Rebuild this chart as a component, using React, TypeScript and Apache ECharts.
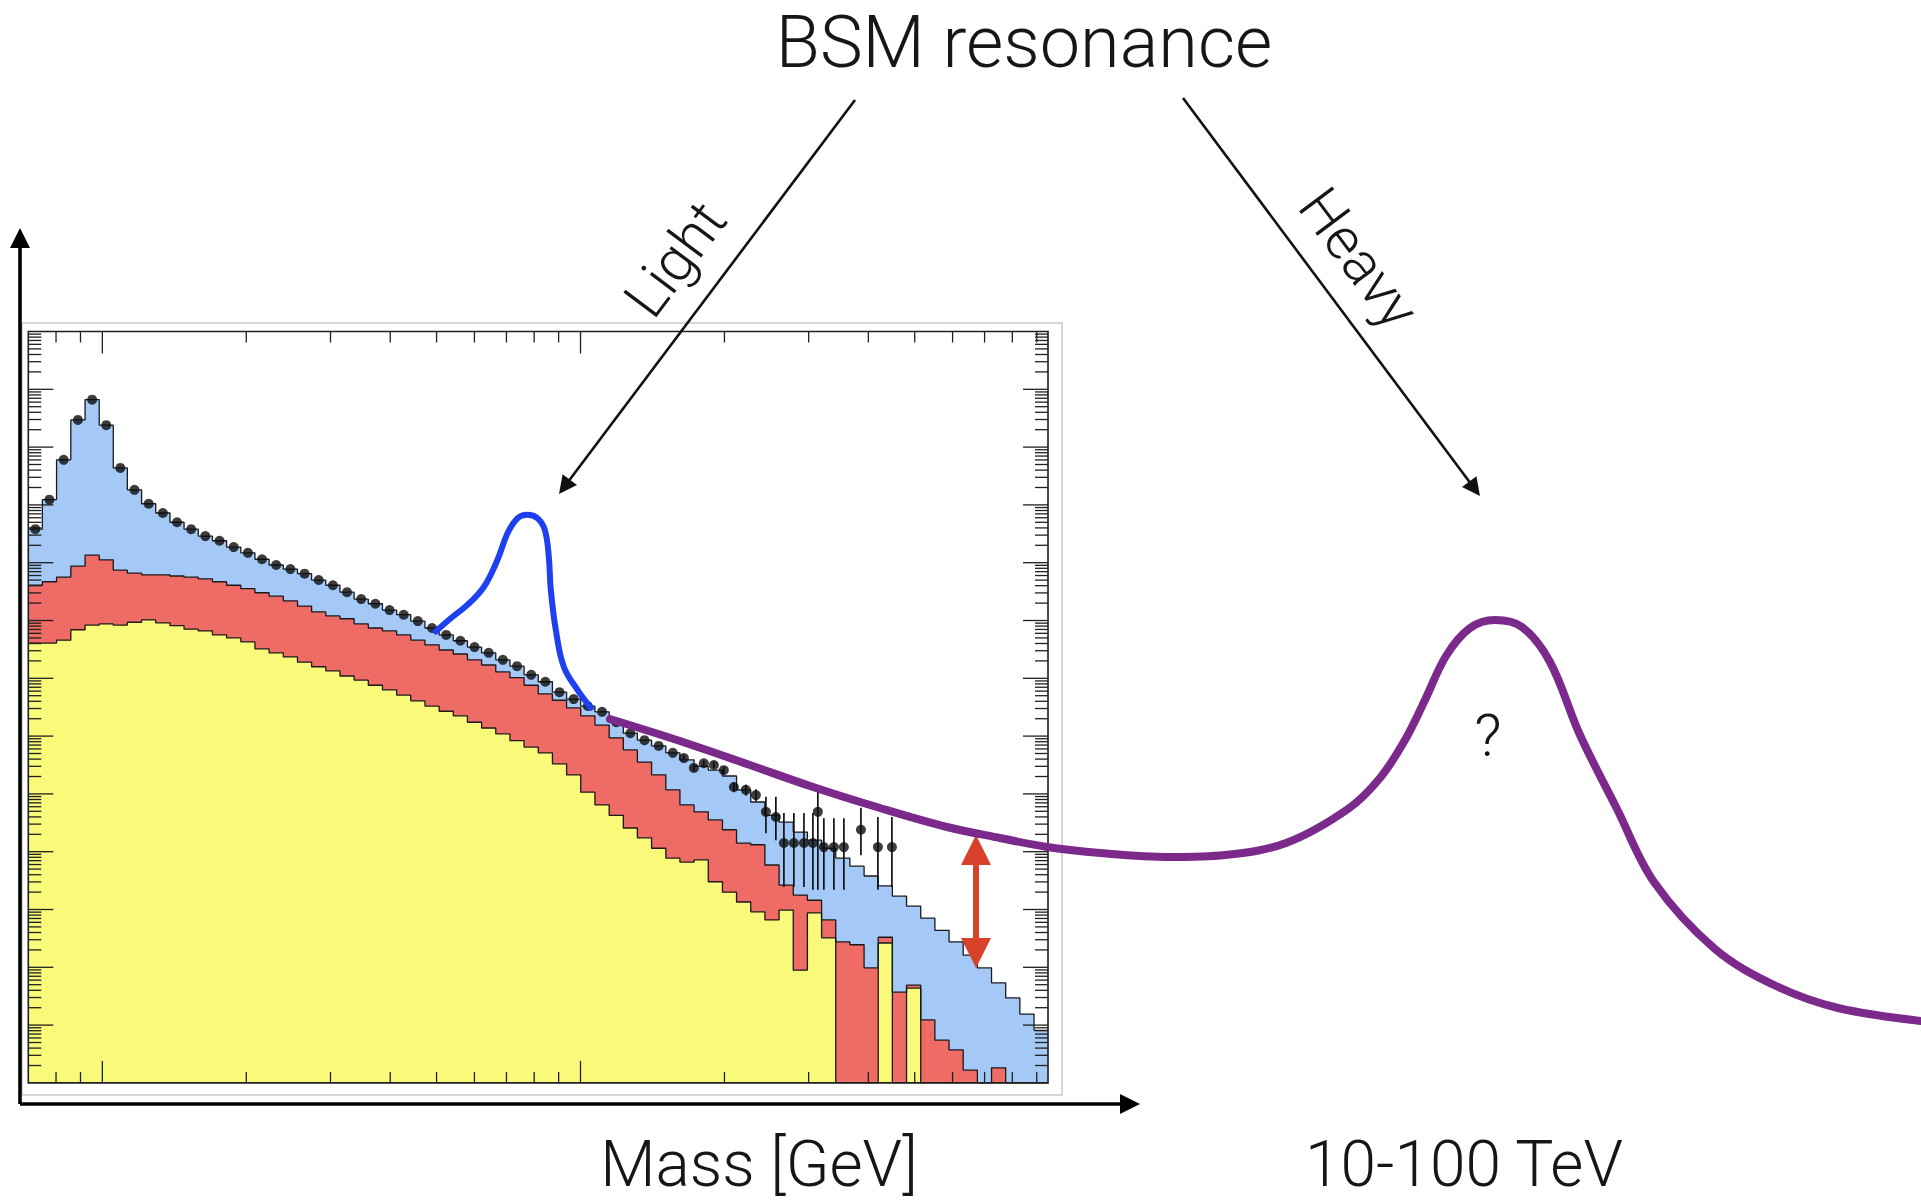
import React, { useEffect, useRef } from "react";
import * as echarts from "echarts";

// ---------- Histogram (inset plot) data: mass bins in GeV, log10(events / GeV) ----------
const BIN_EDGES_GEV = [70, 74.9, 80.2, 85.9, 92.0, 98.5, 105.4, 112.8, 120.8, 129.3, 138.5, 148.2, 158.7, 169.9, 181.9, 194.8, 208.5, 223.2, 239.0, 255.9, 273.9, 293.3, 314.0, 336.1, 359.9, 385.3, 412.5, 441.6, 472.8, 506.2, 541.9, 580.1, 621.1, 664.9, 711.9, 762.1, 815.9, 873.5, 935.2, 1001, 1072, 1148, 1229, 1315, 1408, 1508, 1614, 1728, 1850, 1981, 2120, 2270, 2430, 2602, 2786, 2982, 3193, 3418, 3659, 3918, 4194, 4490, 4807, 5147, 5510, 5899, 6315, 6761, 7238, 7749, 8296, 8882, 9509];

// total background (blue top)
const TOTAL_LOG10 = [3.58, 4.09, 4.78, 5.47, 5.82, 5.38, 4.64, 4.26, 4.02, 3.86, 3.70, 3.58, 3.46, 3.38, 3.27, 3.17, 3.06, 2.96, 2.89, 2.81, 2.70, 2.61, 2.49, 2.37, 2.29, 2.18, 2.10, 1.99, 1.87, 1.75, 1.65, 1.54, 1.44, 1.32, 1.21, 1.06, 0.94, 0.76, 0.64, 0.52, 0.42, 0.24, 0.05, -0.07, -0.17, -0.29, -0.41, -0.52, -0.59, -0.69, -0.93, -1.14, -1.37, -1.49, -1.66, -1.80, -1.94, -2.11, -2.25, -2.42, -2.59, -2.77, -2.94, -3.15, -3.36, -3.56, -3.79, -4.01, -4.27, -4.53, -4.81, -5.09];
// red + yellow (red top)
const RED_LOG10 = [2.61, 2.67, 2.75, 2.94, 3.13, 3.05, 2.87, 2.82, 2.79, 2.79, 2.77, 2.75, 2.72, 2.67, 2.61, 2.55, 2.48, 2.42, 2.34, 2.25, 2.15, 2.08, 2.03, 1.94, 1.87, 1.82, 1.75, 1.66, 1.58, 1.49, 1.42, 1.32, 1.23, 1.11, 1.01, 0.88, 0.73, 0.62, 0.49, 0.35, 0.19, -0.03, -0.24, -0.45, -0.67, -0.93, -1.19, -1.31, -1.45, -1.62, -1.85, -1.88, -2.23, -2.58, -2.75, -2.84, -3.18, -3.56, -3.61, -4.01, -3.48, -4.43, -4.31, -4.91, -5.26, -5.43, -5.78, -6, -5.74, -6, -6, -6];
// yellow top
const YELLOW_LOG10 = [1.61, 1.61, 1.66, 1.84, 1.92, 1.94, 1.92, 1.97, 2.01, 1.96, 1.91, 1.85, 1.82, 1.75, 1.70, 1.63, 1.51, 1.44, 1.37, 1.28, 1.20, 1.13, 1.04, 0.97, 0.88, 0.80, 0.71, 0.61, 0.52, 0.43, 0.35, 0.24, 0.14, 0.04, -0.08, -0.19, -0.29, -0.48, -0.67, -0.97, -1.19, -1.37, -1.59, -1.76, -1.94, -2.11, -2.18, -2.14, -2.52, -2.70, -2.87, -3.04, -3.18, -3.01, -4.05, -3.06, -3.49, -6, -6, -6, -3.58, -6, -4.36, -6, -6, -6, -6, -6, -6, -6, -6, -6];
// observed data, one point per bin (first bins)
const DATA_LOG10 = [3.58, 4.09, 4.78, 5.47, 5.82, 5.38, 4.64, 4.26, 4.02, 3.86, 3.70, 3.58, 3.46, 3.38, 3.27, 3.17, 3.06, 2.96, 2.89, 2.81, 2.70, 2.61, 2.49, 2.37, 2.29, 2.18, 2.10, 1.99, 1.87, 1.75, 1.65, 1.54, 1.44, 1.32, 1.21, 1.06, 0.94, 0.76, 0.64, 0.52, 0.42, 0.24, 0.05, -0.07, -0.17, -0.29];
// observed data at high mass, with error bars
const HM_MASS = [1645, 1726, 1811, 1901, 1994, 2093, 2217, 2327, 2442, 2562, 2663, 2794, 2933, 3062, 3136, 3228, 3388, 3555, 3859, 4188, 4480];
const HM_LOG10 = [-0.38, -0.55, -0.47, -0.50, -0.59, -0.88, -0.93, -1.02, -1.31, -1.40, -1.85, -1.85, -1.85, -1.85, -1.31, -1.92, -1.92, -1.92, -1.62, -1.92, -1.92];
const HM_HI_LOG10 = [-0.33, -0.50, -0.42, -0.45, -0.53, -0.80, -0.84, -0.92, -1.05, -1.05, -1.33, -1.33, -1.33, -1.33, -0.90, -1.42, -1.42, -1.42, -1.24, -1.40, -1.40];
const HM_LO_LOG10 = [-0.43, -0.60, -0.52, -0.55, -0.65, -0.97, -1.03, -1.13, -1.68, -1.80, -2.61, -2.61, -2.61, -2.66, -2.66, -2.66, -2.66, -2.66, -2.06, -2.66, -2.61];
// light resonance sketch (blue)
const SIGNAL_MASS = [498, 535.5, 580, 627.7, 670.5, 703.6, 738.4, 774.7, 812.8, 842, 858.4, 866.7, 887.8, 922.7, 985.6, 1051];
const SIGNAL_LOG10 = [1.81, 2.04, 2.27, 2.58, 3.05, 3.51, 3.77, 3.83, 3.77, 3.57, 3.10, 2.53, 1.84, 1.20, 0.80, 0.49];

const X_RANGE_GEV = [70, 9500];
const Y_RANGE_LOG10 = [-6, 7];
const X_MAJOR_TICKS = [100, 1000];
const X_MINOR_TICKS = [80, 90, 200, 300, 400, 500, 600, 700, 800, 900, 2000, 3000, 4000, 5000, 6000, 7000, 8000, 9000];
const Y_DECADES = [-6, -5, -4, -3, -2, -1, 0, 1, 2, 3, 4, 5, 6];
const Y_MINOR_MULT = [2, 3, 4, 5, 6, 7, 8, 9];

// ---------- Sketch layer (page coordinates, y downward) ----------
const HEAVY_CURVE_X = [610, 680, 747, 813, 880, 947, 1000, 1047, 1100, 1170, 1225, 1286, 1348, 1380, 1405, 1425, 1446, 1470, 1495, 1522, 1550, 1580, 1617, 1654, 1715, 1776, 1838, 1921];
const HEAVY_CURVE_Y = [719, 741, 764, 787, 808, 827, 838, 847, 853, 857, 855, 843, 809, 778, 740, 700, 656, 628, 620, 627, 662, 735, 809, 882, 949, 986, 1008, 1021];
const POINTER_ARROWS = [
  [[855, 100], [564.4, 486.8]],
  [[1183, 98], [1474.6, 488.8]],
];
const AXIS_ARROWS = [
  [[20, 1104], [20, 238]],
  [[20, 1104], [1130, 1104]],
];
const RED_ARROW = [[976, 953], [976, 850]];

const FONT = "Roboto, 'Liberation Sans', Arial, sans-serif";
const INK = "#161616";

const pow10 = (e: number) => Math.pow(10, e);

function stepData(logs: number[]) {
  const pts = logs.map((e, i) => [BIN_EDGES_GEV[i], pow10(e)]);
  pts.push([BIN_EDGES_GEV[logs.length], pow10(logs[logs.length - 1])]);
  return pts;
}

function binCenter(i: number) {
  return Math.sqrt(BIN_EDGES_GEV[i] * BIN_EDGES_GEV[i + 1]);
}

export default function App() {
  const ref = useRef<HTMLDivElement | null>(null);

  useEffect(() => {
    document.body.style.margin = "0";
    if (!ref.current) return;
    const chart = echarts.init(ref.current, undefined, { renderer: "svg" });

    const yMin = pow10(Y_RANGE_LOG10[0]);
    const yMax = pow10(Y_RANGE_LOG10[1]);
    const xMin = X_RANGE_GEV[0];
    const xMax = X_RANGE_GEV[1];

    const yTicks: number[][] = [];
    Y_DECADES.forEach((d) => {
      if (d > Y_RANGE_LOG10[0]) yTicks.push([xMin, pow10(d), 1]);
      Y_MINOR_MULT.forEach((m) => yTicks.push([xMin, m * pow10(d), 0]));
    });
    const xTicks = [
      ...X_MAJOR_TICKS.map((v) => [v, yMin, 1]),
      ...X_MINOR_TICKS.map((v) => [v, yMin, 0]),
    ];

    const stepSeries = (name: string, logs: number[], color: string) => ({
      name,
      type: "line",
      xAxisIndex: 0,
      yAxisIndex: 0,
      step: "end",
      symbol: "none",
      silent: true,
      z: 2,
      lineStyle: { color: "#1a1a1a", width: 1.3 },
      areaStyle: { color, opacity: 1, origin: "start" },
      data: stepData(logs),
    });

    const option: any = {
      animation: false,
      backgroundColor: "#ffffff",
      grid: [
        { left: 28.3, top: 331.5, width: 1019.7, height: 751.4, show: false },
        { left: 0, top: 0, right: 0, bottom: 0, show: false },
      ],
      xAxis: [
        {
          type: "log", gridIndex: 0, min: xMin, max: xMax, logBase: 10,
          axisLine: { show: false }, axisTick: { show: false }, axisLabel: { show: false }, splitLine: { show: false },
        },
        {
          type: "value", gridIndex: 1, min: 0, max: 1921, show: false,
        },
      ],
      yAxis: [
        {
          type: "log", gridIndex: 0, min: yMin, max: yMax, logBase: 10,
          axisLine: { show: false }, axisTick: { show: false }, axisLabel: { show: false }, splitLine: { show: false },
        },
        {
          type: "value", gridIndex: 1, min: 0, max: 1201, inverse: true, show: false,
        },
      ],
      series: [
        stepSeries("Total", TOTAL_LOG10, "#a4c9f6"),
        stepSeries("Red", RED_LOG10, "#ee6b66"),
        stepSeries("Yellow", YELLOW_LOG10, "#f9f97a"),
        // frame
        {
          type: "custom", xAxisIndex: 0, yAxisIndex: 0, silent: true, z: 3,
          data: [[xMin, yMin]],
          renderItem: (_p: any, api: any) => {
            const a = api.coord([xMin, yMax]);
            const b = api.coord([xMax, yMin]);
            return {
              type: "rect",
              shape: { x: a[0], y: a[1], width: b[0] - a[0], height: b[1] - a[1] },
              style: { fill: "none", stroke: "#202020", lineWidth: 1.6 },
            };
          },
        },
        // x ticks (bottom and top)
        {
          type: "custom", xAxisIndex: 0, yAxisIndex: 0, silent: true, z: 3,
          data: xTicks,
          encode: { x: 0, y: 1 },
          renderItem: (_p: any, api: any) => {
            const v = api.value(0);
            const len = api.value(2) ? 22 : 11;
            const b = api.coord([v, yMin]);
            const t = api.coord([v, yMax]);
            const st = { stroke: "#202020", lineWidth: 1.3 };
            return {
              type: "group",
              children: [
                { type: "line", shape: { x1: b[0], y1: b[1], x2: b[0], y2: b[1] - len }, style: st },
                { type: "line", shape: { x1: t[0], y1: t[1], x2: t[0], y2: t[1] + len }, style: st },
              ],
            };
          },
        },
        // y ticks (left and right)
        {
          type: "custom", xAxisIndex: 0, yAxisIndex: 0, silent: true, z: 3,
          data: yTicks,
          encode: { x: 0, y: 1 },
          renderItem: (_p: any, api: any) => {
            const v = api.value(1);
            const len = api.value(2) ? 25 : 13;
            const l = api.coord([xMin, v]);
            const r = api.coord([xMax, v]);
            const st = { stroke: "#202020", lineWidth: 1.3 };
            return {
              type: "group",
              children: [
                { type: "line", shape: { x1: l[0], y1: l[1], x2: l[0] + len, y2: l[1] }, style: st },
                { type: "line", shape: { x1: r[0], y1: r[1], x2: r[0] - len, y2: r[1] }, style: st },
              ],
            };
          },
        },
        // error bars
        {
          type: "custom", xAxisIndex: 0, yAxisIndex: 0, silent: true, z: 4,
          data: HM_MASS.map((m, i) => [m, pow10(HM_LOG10[i]), pow10(HM_LO_LOG10[i]), pow10(HM_HI_LOG10[i])]),
          encode: { x: 0, y: 1 },
          renderItem: (_p: any, api: any) => {
            const top = api.coord([api.value(0), api.value(3)]);
            const bot = api.coord([api.value(0), api.value(2)]);
            return {
              type: "line",
              shape: { x1: top[0], y1: top[1], x2: bot[0], y2: bot[1] },
              style: { stroke: "#111", lineWidth: 1.7 },
            };
          },
        },
        // data points
        {
          type: "scatter", xAxisIndex: 0, yAxisIndex: 0, silent: true, z: 4,
          symbol: "circle", symbolSize: 10,
          itemStyle: { color: "#0d0d0d" },
          data: [
            ...DATA_LOG10.map((e, i) => [binCenter(i), pow10(e)]),
            ...HM_MASS.map((m, i) => [m, pow10(HM_LOG10[i])]),
          ],
        },
        // light resonance
        {
          type: "line", xAxisIndex: 0, yAxisIndex: 0, silent: true, z: 5,
          symbol: "none", smooth: 0.4, clip: false,
          lineStyle: { color: "#1e40f0", width: 6, cap: "round" },
          data: SIGNAL_MASS.map((m, i) => [m, pow10(SIGNAL_LOG10[i])]),
        },
        // heavy resonance sketch
        {
          type: "line", xAxisIndex: 1, yAxisIndex: 1, silent: true, z: 6,
          symbol: "none", smooth: 0.35,
          lineStyle: { color: "#7b2a8c", width: 8, cap: "round" },
          data: HEAVY_CURVE_X.map((x, i) => [x, HEAVY_CURVE_Y[i]]),
        },
        // pointer arrows
        {
          type: "lines", coordinateSystem: "cartesian2d", xAxisIndex: 1, yAxisIndex: 1, silent: true, z: 6,
          symbol: ["none", "triangle"], symbolSize: 18,
          lineStyle: { color: "#111", width: 2.6, opacity: 1, curveness: 0 },
          data: POINTER_ARROWS.map((c) => ({ coords: c })),
        },
        // outer axes
        {
          type: "lines", coordinateSystem: "cartesian2d", xAxisIndex: 1, yAxisIndex: 1, silent: true, z: 6,
          symbol: ["none", "triangle"], symbolSize: 20,
          lineStyle: { color: "#000", width: 3.6, opacity: 1, curveness: 0 },
          data: AXIS_ARROWS.map((c) => ({ coords: c })),
        },
        // red double arrow
        {
          type: "lines", coordinateSystem: "cartesian2d", xAxisIndex: 1, yAxisIndex: 1, silent: true, z: 6,
          symbol: ["triangle", "triangle"], symbolSize: 30,
          lineStyle: { color: "#d8412a", width: 6, opacity: 1, curveness: 0 },
          data: [{ coords: RED_ARROW }],
        },
      ],
      graphic: [
        {
          type: "rect", z: -10, silent: true,
          shape: { x: 22, y: 323, width: 1040, height: 772 },
          style: { fill: "none", stroke: "#c8c8c8", lineWidth: 1.5 },
        },
        {
          type: "text", x: 1024, y: 42, silent: true,
          style: { text: "BSM resonance", fontSize: 72, fontFamily: FONT, fontWeight: 300, fill: INK, align: "center", verticalAlign: "middle" },
        },
        {
          type: "text", x: 675, y: 259, rotation: 0.928, silent: true,
          style: { text: "Light", fontSize: 58, fontFamily: FONT, fontWeight: 300, fill: INK, align: "center", verticalAlign: "middle" },
        },
        {
          type: "text", x: 1359, y: 258, rotation: -0.93, silent: true,
          style: { text: "Heavy", fontSize: 58, fontFamily: FONT, fontWeight: 300, fill: INK, align: "center", verticalAlign: "middle" },
        },
        {
          type: "text", x: 1488, y: 735, silent: true,
          style: { text: "?", fontSize: 60, fontFamily: FONT, fontWeight: 300, fill: INK, align: "center", verticalAlign: "middle" },
        },
        {
          type: "text", x: 759, y: 1164, silent: true,
          style: { text: "Mass [GeV]", fontSize: 64, fontFamily: FONT, fontWeight: 300, fill: INK, align: "center", verticalAlign: "middle" },
        },
        {
          type: "text", x: 1464, y: 1164, silent: true,
          style: { text: "10-100 TeV", fontSize: 64, fontFamily: FONT, fontWeight: 300, fill: INK, align: "center", verticalAlign: "middle" },
        },
      ],
    };

    chart.setOption(option);
    return () => chart.dispose();
  }, []);

  return (
    <div
      ref={ref}
      style={{ position: "fixed", left: 0, top: 0, width: 1921, height: 1201, background: "#fff" }}
    />
  );
}
